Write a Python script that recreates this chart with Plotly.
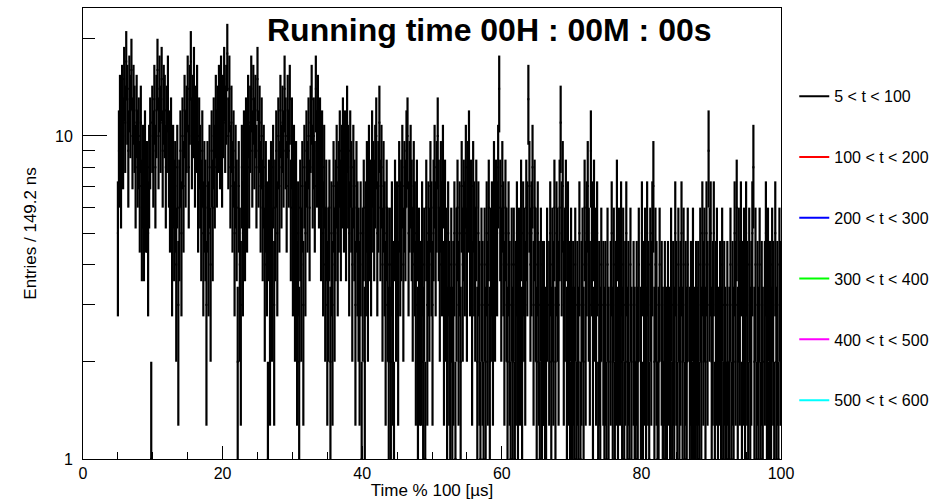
import numpy as np
import plotly.graph_objects as go

# ---------------- data ----------------
title_text = "Running time 00H : 00M : 00s"
x_title = "Time % 100 [µs]"
y_title = "Entries / 149.2 ns"

n_bins = 670            # 0 .. 100 us, 149.25 ns per bin
x_min, x_max = 0.0, 100.0
first_filled_bin = 33   # histogram is empty below 5 us

# bin contents (estimated from the error-bar tops in the picture)
# bins 33 .. 205  (~5 - 30.7 us)
counts_a = [5, 9, 12, 8, 13, 10, 15, 11, 17, 13, 9, 14, 12, 16, 10, 13, 11, 8, 12, 9, 10, 7, 11, 6, 8,
            6, 9, 7, 7, 5, 8, 10, 1, 11, 9, 13, 8, 12, 16, 10, 14, 11, 15, 9, 13, 12, 8, 11, 14, 9, 7, 10, 5, 8, 6,
            7, 4, 8, 3, 6, 9, 5, 10, 7, 12, 9, 11, 14, 8, 13, 17, 10, 12, 15, 9, 11, 13, 7, 10, 8, 6, 9, 5, 7,
            6, 3, 7, 5, 8, 4, 9, 6, 10, 8, 12, 9, 11, 13, 10, 14, 9, 12, 15, 11, 13, 18, 10, 14, 8, 11, 7, 9, 5, 8,
            6, 2, 7, 4, 3, 8, 5, 9, 6, 10, 7, 12, 8, 11, 14, 9, 13, 10, 12, 8, 15, 9, 11, 7, 10, 6, 8, 4, 7,
            5, 1, 6, 3, 7, 4, 8, 3, 6, 9, 5, 10, 7, 12, 8, 11, 9, 14, 10, 7, 12, 9, 13, 6, 10, 5, 8, 4, 7, 3]
# bins 206 .. 352  (~30.7 - 52.7 us)
counts_b = [5, 2, 6, 4, 7, 3, 8, 5, 9, 7, 10, 6, 11, 13, 8, 10, 7, 14, 9, 12, 8, 10, 6, 9, 5, 8, 4, 6, 3,
            4, 6, 2, 5, 3, 7, 4, 6, 8, 5, 7, 9, 6, 8, 10, 7, 9, 6, 11, 8, 5, 9, 7, 4, 8, 6, 3, 7, 5, 4,
            3, 5, 1, 4, 6, 2, 5, 7, 4, 8, 6, 5, 9, 7, 6, 8, 10, 5, 7, 11, 6, 8, 4, 7, 5, 3, 6, 4, 2,
            4, 2, 5, 3, 1, 6, 4, 5, 3, 7, 5, 6, 8, 4, 7, 6, 9, 10, 5, 7, 8, 6, 4, 7, 5, 3, 6, 2, 4, 3,
            3, 5, 2, 4, 1, 6, 3, 5, 4, 7, 5, 3, 6, 8, 5, 7, 10, 6, 4, 7, 5, 8, 3, 6, 4, 2, 5, 3, 2]
# bins 353 .. 499  (~52.7 - 74.7 us)
counts_c = [4, 2, 3, 5, 1, 4, 6, 3, 5, 2, 7, 4, 6, 5, 8, 4, 7, 9, 5, 6, 3, 7, 5, 4, 6, 2, 5, 3, 1, 4,
            3, 1, 4, 2, 5, 3, 6, 2, 4, 5, 3, 7, 4, 6, 5, 8, 14, 6, 4, 7, 5, 3, 6, 4, 2, 5, 3, 1, 4,
            2, 4, 1, 3, 5, 2, 4, 3, 6, 2, 5, 4, 3, 6, 5, 13, 7, 4, 5, 8, 3, 6, 4, 2, 5, 3, 1, 4, 2, 3,
            3, 1, 2, 4, 0, 3, 5, 2, 4, 3, 6, 2, 5, 4, 3, 6, 11, 5, 7, 3, 4, 6, 2, 5, 3, 1, 4, 2, 3,
            2, 4, 1, 3, 2, 5, 1, 3, 4, 2, 6, 3, 5, 7, 4, 3, 9, 5, 2, 6, 4, 3, 5, 1, 3, 2, 4, 0, 3]
# bins 500 .. 669  (~74.7 - 100 us)
counts_d = [2, 3, 1, 4, 2, 0, 3, 5, 2, 4, 1, 3, 6, 2, 4, 3, 5, 2, 4, 1, 3, 5, 2, 3, 1, 4, 2, 0, 3, 2,
            1, 3, 2, 4, 0, 2, 5, 1, 3, 4, 2, 5, 3, 1, 4, 3, 5, 7, 2, 4, 3, 1, 2, 4, 0, 3, 2, 1, 3,
            2, 1, 3, 0, 2, 4, 1, 3, 2, 5, 3, 1, 4, 2, 3, 5, 2, 4, 1, 3, 2, 4, 0, 2, 3, 1, 4, 2, 1, 3,
            2, 3, 1, 4, 2, 5, 3, 4, 2, 5, 3, 9, 4, 5, 2, 3, 5, 1, 3, 4, 2, 0, 3, 2, 4, 1, 3, 2, 1,
            3, 1, 2, 4, 1, 3, 2, 5, 3, 6, 2, 4, 3, 5, 1, 3, 4, 2, 5, 3, 1, 4, 2, 3, 5, 8, 2, 4, 1, 3,
            2, 4, 1, 3, 2, 0, 3, 5, 2, 4, 1, 3, 2, 4, 3, 1, 5, 2, 3, 1, 4, 3]

series_labels = ["5 < t < 100", "100 < t < 200", "200 < t < 300",
                 "300 < t < 400", "400 < t < 500", "500 < t < 600"]
series_colors = ["#000000", "#ff0000", "#0000ff", "#00ff00", "#ff00ff", "#00ffff"]

y_tick_vals = [1, 10]
y_minor_vals = [2, 3, 4, 5, 6, 7, 8, 9, 20]

# ---------------- figure ----------------
counts = np.array(counts_a + counts_b + counts_c + counts_d, dtype=float)
assert len(counts) == n_bins - first_filled_bin

edges = np.linspace(x_min, x_max, n_bins + 1)
bin_w = edges[1] - edges[0]
centers = (edges[:-1] + edges[1:])[first_filled_bin:] / 2.0
filled = counts > 0          # empty bins draw nothing (ROOT "E" option)
xc = centers[filled]
yc = counts[filled]
err = np.sqrt(yc)

FONT = "Liberation Sans, Arial, Helvetica, sans-serif"

fig = go.Figure()
fig.add_trace(go.Scatter(
    x=xc, y=yc, mode="markers", showlegend=False, hoverinfo="skip",
    marker=dict(color="black", size=2, symbol="square"),
    error_y=dict(type="data", array=err, symmetric=True, color="black",
                 thickness=2.2, width=0),
    error_x=dict(type="constant", value=bin_w / 2.0, color="black",
                 thickness=1.5, width=0),
))
for i in range(len(series_labels)):
    fig.add_trace(go.Scatter(x=[None], y=[None], mode="lines", name=series_labels[i],
                             legendgroup="g%d" % i,
                             line=dict(color=series_colors[i], width=2)))

fig.update_layout(
    width=949, height=500,
    margin=dict(l=83, r=168, t=8, b=41, autoexpand=False),
    paper_bgcolor="white", plot_bgcolor="white",
    font=dict(family=FONT, color="black", size=16),
    showlegend=True,
    legend=dict(x=1.019, y=0.842, xanchor="left", yanchor="top",
                font=dict(size=16, family=FONT), itemwidth=30,
                tracegroupgap=37, bgcolor="rgba(0,0,0,0)"),
    xaxis=dict(range=[x_min, x_max], showgrid=False, zeroline=False, automargin=False,
               showline=True, linecolor="black", linewidth=1, mirror=True,
               ticks="inside", dtick=20, tick0=0, ticklen=13, tickcolor="black",
               minor=dict(ticks="inside", dtick=5, tick0=0, ticklen=7, tickcolor="black"),
               tickfont=dict(size=16),
               title=dict(text=x_title, font=dict(size=17), standoff=2)),
    yaxis=dict(type="log", range=[0, np.log10(24.9)], showgrid=False, zeroline=False,
               automargin=False,
               showline=True, linecolor="black", linewidth=1, mirror=True,
               ticks="inside", tickmode="array", tickvals=y_tick_vals,
               ticktext=[str(v) for v in y_tick_vals], ticklen=24, tickcolor="black",
               minor=dict(ticks="inside", tickmode="array", tickvals=y_minor_vals,
                          ticklen=12, tickcolor="black"),
               tickfont=dict(size=16), ticklabelstandoff=6,
               title=dict(text=y_title, font=dict(size=17), standoff=14)),
)

fig.add_annotation(text="<b>%s</b>" % title_text, xref="paper", yref="paper",
                   x=0.583, y=0.951, xanchor="center", yanchor="middle",
                   showarrow=False, font=dict(size=32, family=FONT, color="black"))

fig.write_html("out.html", config={"displayModeBar": False},
               post_script="document.body.style.margin='0';")
